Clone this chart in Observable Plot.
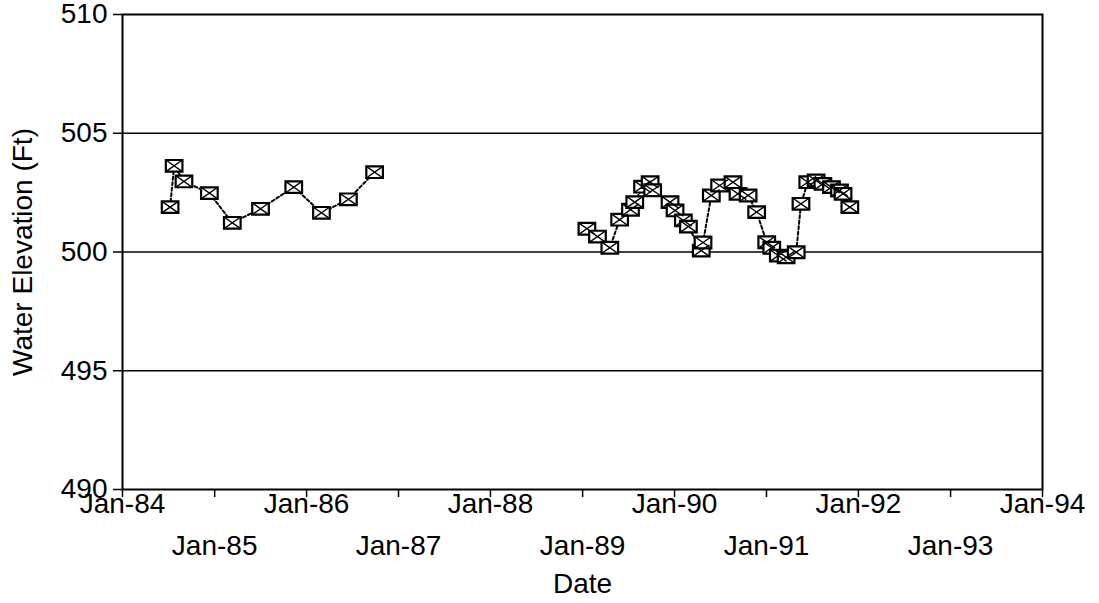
<!DOCTYPE html>
<html>
<head>
<meta charset="utf-8">
<script src="https://cdn.jsdelivr.net/npm/d3@7"></script>
<script src="https://cdn.jsdelivr.net/npm/@observablehq/plot@0.6"></script>
<style>
  html, body { margin: 0; padding: 0; background: #fff; }
  #chart svg { display: block; }
</style>
</head>
<body>
<div id="chart"></div>
<script>
// ---- data ----
const dates = [
  "1984-07-08","1984-07-24","1984-09-01","1984-12-11","1985-03-12","1985-07-02","1985-11-11","1986-03-01","1986-06-16","1986-09-28",
  "1989-01-18","1989-03-01","1989-04-19","1989-05-28","1989-07-10","1989-07-27","1989-08-27","1989-09-26","1989-10-06",
  "1989-12-14","1990-01-03","1990-02-05","1990-02-25","1990-04-17","1990-04-24","1990-05-27","1990-06-29","1990-08-21",
  "1990-09-10","1990-10-20","1990-11-23","1991-01-02","1991-01-22","1991-02-17","1991-03-20","1991-04-29","1991-05-18",
  "1991-06-14","1991-07-17","1991-08-13","1991-09-16","1991-10-18","1991-11-01","1991-11-28"
];
const elevations = [
  501.89,503.63,502.97,502.48,501.23,501.82,502.73,501.65,502.22,503.36,
  500.98,500.65,500.18,501.36,501.78,502.10,502.75,502.94,502.60,
  502.10,501.75,501.33,501.07,500.06,500.40,502.38,502.80,502.94,
  502.45,502.38,501.68,500.41,500.18,499.85,499.78,499.99,502.03,
  502.94,503.01,502.87,502.73,502.59,502.45,501.89
];
const segments = [
  1,1,1,1,1,1,1,1,1,1,
  2,2,2,2,2,2,2,2,2,
  2,2,2,2,2,2,2,2,2,
  2,2,2,2,2,2,2,2,2,
  2,2,2,2,2,2,2
];
const yTicks = [490, 495, 500, 505, 510];
const gridLevels = [495, 500, 505];
const yearTicks = ["1984","1985","1986","1987","1988","1989","1990","1991","1992","1993","1994"];
const yTitle = "Water Elevation (Ft)";
const xTitle = "Date";

// ---- build table ----
const parse = d3.utcParse("%Y-%m-%d");
const rows = dates.map((d, i) => ({date: parse(d), value: elevations[i], seg: segments[i]}));
const years = yearTicks.map(y => d3.utcParse("%Y")(y));
const evenYears = years.filter(d => d.getUTCFullYear() % 2 === 0);
const oddYears = years.filter(d => d.getUTCFullYear() % 2 === 1);

const boxSymbol = {
  draw(ctx) {
    const w = 8.3, h = 5.8;
    ctx.moveTo(-w, -h); ctx.lineTo(w, -h); ctx.lineTo(w, h); ctx.lineTo(-w, h); ctx.closePath();
  }
};
const crossSymbol = {
  draw(ctx) {
    const w = 8.3, h = 5.8;
    ctx.moveTo(-w, -h); ctx.lineTo(w, h);
    ctx.moveTo(w, -h); ctx.lineTo(-w, h);
  }
};

const FS = 28;
const font = "'Liberation Sans', Arial, Helvetica, sans-serif";

const chart = Plot.plot({
  width: 1099,
  height: 603,
  marginLeft: 122,
  marginRight: 57,
  marginTop: 14,
  marginBottom: 114,
  style: {fontFamily: font, fontSize: FS + "px", color: "#000", background: "#fff"},
  x: {type: "utc", domain: [years[0], years[years.length - 1]]},
  y: {domain: [490, 510]},
  marks: [
    Plot.ruleY(gridLevels, {stroke: "#000", strokeWidth: 1.6}),
    Plot.frame({stroke: "#000", strokeWidth: 2}),
    Plot.axisY({ticks: yTicks, tickSize: 9, tickPadding: 6, strokeWidth: 1.5, fontSize: FS, label: null, tickFormat: d => d}),
    Plot.axisX({ticks: years, tickSize: 8, strokeWidth: 1.5, tickFormat: () => "", label: null}),
    Plot.axisX({ticks: evenYears, tickSize: 0, tickPadding: 4, fontSize: FS, tickFormat: "%b-%y", label: null}),
    Plot.axisX({ticks: oddYears, tickSize: 0, tickPadding: 46, fontSize: FS, tickFormat: "%b-%y", label: null}),
    Plot.text([yTitle], {text: d => d, frameAnchor: "left", rotate: -90, dx: -99, fontSize: FS, textAnchor: "middle", lineAnchor: "middle"}),
    Plot.text([xTitle], {text: d => d, frameAnchor: "bottom", dy: 95, fontSize: FS, textAnchor: "middle", lineAnchor: "middle"}),
    Plot.line(rows, {x: "date", y: "value", z: "seg", stroke: "#000", strokeWidth: 2, strokeDasharray: "3,2.5", curve: "linear"}),
    Plot.dot(rows, {x: "date", y: "value", symbol: boxSymbol, fill: "#fff", stroke: "#000", strokeWidth: 2.2}),
    Plot.dot(rows, {x: "date", y: "value", symbol: crossSymbol, fill: "none", stroke: "#000", strokeWidth: 1.4})
  ]
});
document.getElementById("chart").appendChild(chart);
</script>
</body>
</html>
